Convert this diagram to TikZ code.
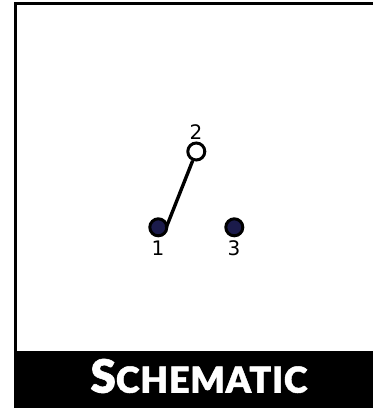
\documentclass[tikz,border=0pt]{standalone}
\usepackage{fontspec}
\setmainfont{DejaVu Sans}
\newfontfamily\titlefont{Lato}[UprightFont=* Black,BoldFont=* Black,FakeBold=1.2,LetterSpace=2]
\definecolor{navy}{HTML}{1B1B4B}
\tikzset{
  x=1pt,y=-1pt,
  term/.style={circle,draw=black,line width=3pt,minimum size=17pt,inner sep=0pt},
  tlabel/.style={font=\fontsize{20}{20}\selectfont,text=black,inner sep=0pt,anchor=center},
  frameline/.style={black,line width=3pt}
}
\begin{document}
\begin{tikzpicture}
\useasboundingbox (0,0) rectangle (373,408);
\fill[white] (0,0) rectangle (373,408);
\coordinate (fa) at (15.5,352);
\coordinate (fb) at (15.5,3.5);
\coordinate (fc) at (373,3.5);
\draw[frameline,line join=miter] (fa) -- (fb) -- (fc);
\fill[black] (14,351) rectangle (373,408);
\node[term,fill=navy] (n1) at (158.3,227.3) {};
\node[term,fill=white] (n2) at (196.3,151.5) {};
\node[term,fill=navy] (n3) at (234.3,227.3) {};
\draw[black,line width=3.4pt] ([xshift=-2pt]n1.east) -- (n2);
\node[tlabel] (l2) at (196,132) {2};
\node[tlabel] (l1) at (158,248) {1};
\node[tlabel] (l3) at (234,248) {3};
\node[text=white,inner sep=0pt,anchor=center] (title) at (199,376) {\titlefont\fontsize{46}{46}\selectfont S\fontsize{36}{36}\selectfont CHEMATIC};
\end{tikzpicture}
\end{document}
